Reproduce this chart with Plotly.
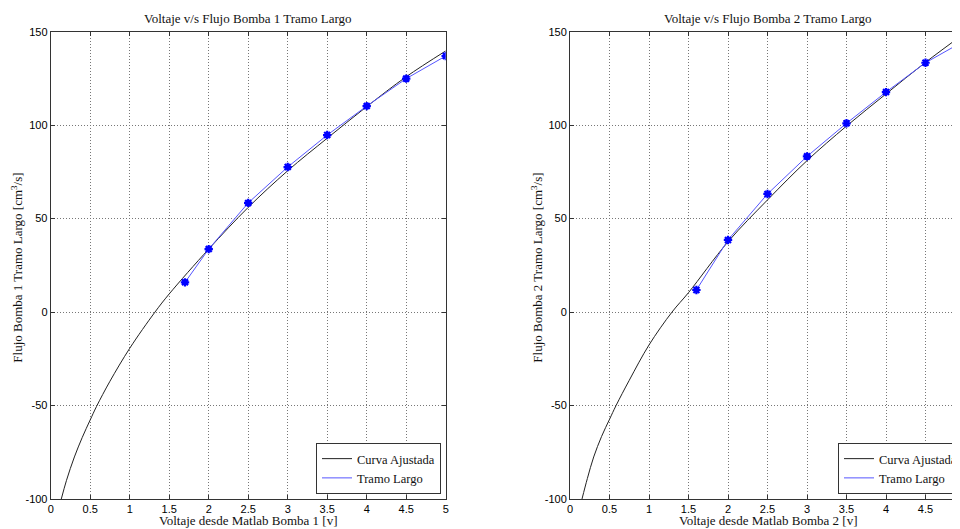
import plotly.graph_objects as go

# ---- data ----
fit1_x = [0.134, 0.2, 0.3, 0.4, 0.5, 0.58, 0.75, 1.0, 1.32, 1.5, 2.0, 2.5, 3.0, 3.5, 4.0, 4.5, 5.0]
fit1_y = [-100, -90, -77.5, -67, -57.7, -50.5, -37, -19.4, 0, 9.7, 33.7, 56.0, 75.6, 93.0, 109.9, 125.9, 139.7]
data1_x = [1.7, 2.0, 2.5, 3.0, 3.5, 4.0, 4.5, 5.0]
data1_y = [15.9, 33.7, 58.4, 77.6, 94.7, 110.2, 124.9, 137.0]

fit2_x = [0.152, 0.22, 0.3, 0.4, 0.5, 0.583, 0.75, 1.0, 1.291, 1.5, 2.0, 2.5, 3.0, 3.5, 4.0, 4.5, 5.0]
fit2_y = [-100, -89, -77.5, -66.5, -57.4, -50, -36.5, -17.6, 0, 10.4, 37.6, 60.0, 81.0, 99.5, 116.7, 133.6, 149.3]
data2_x = [1.6, 2.0, 2.5, 3.0, 3.5, 4.0, 4.5, 5.0]
data2_y = [11.8, 38.6, 63.2, 83.3, 101.0, 117.7, 133.4, 145.3]

x_ticks = [0, 0.5, 1, 1.5, 2, 2.5, 3, 3.5, 4, 4.5, 5]
x_tick_labels = ["0", "0.5", "1", "1.5", "2", "2.5", "3", "3.5", "4", "4.5", "5"]
y_ticks = [-100, -50, 0, 50, 100, 150]
y_tick_labels = ["-100", "-50", "0", "50", "100", "150"]

titles = ["Voltaje v/s Flujo Bomba 1 Tramo Largo", "Voltaje v/s Flujo Bomba 2 Tramo Largo"]
xlabels = ["Voltaje desde Matlab Bomba 1 [v]", "Voltaje desde Matlab Bomba 2 [v]"]
ylabels = ["Flujo Bomba 1 Tramo Largo [cm<sup>3</sup>/s]", "Flujo Bomba 2 Tramo Largo [cm<sup>3</sup>/s]"]
legend_names = ["Curva Ajustada", "Tramo Largo"]

# the page body has an 8px margin: figure is placed at (8, 8) in the window
OFF = 8.0
W, H = 952, 521
SERIF = "Liberation Serif"
SANS = "Liberation Sans"
FIT_COLOR = "#222222"
LINE_COLOR = "#5555ff"
MARK_COLOR = "#0000ff"
TEXT_COLOR = "#111111"


def px(x):
    return (x - OFF) / W


def py(y):
    return (H - (y - OFF)) / H


fig = go.Figure()

for i, (fx, fy, dx, dy) in enumerate([(fit1_x, fit1_y, data1_x, data1_y),
                                      (fit2_x, fit2_y, data2_x, data2_y)]):
    xa = "x" if i == 0 else "x2"
    ya = "y" if i == 0 else "y2"
    lg = "legend" if i == 0 else "legend2"
    fig.add_trace(go.Scatter(x=fx, y=fy, mode="lines", name=legend_names[0],
                             line=dict(color=FIT_COLOR, width=1, shape="spline", smoothing=1),
                             xaxis=xa, yaxis=ya, legend=lg))
    fig.add_trace(go.Scatter(x=dx, y=dy, mode="lines", name=legend_names[1],
                             line=dict(color=LINE_COLOR, width=1),
                             xaxis=xa, yaxis=ya, legend=lg))
    fig.add_trace(go.Scatter(x=dx, y=dy, mode="markers", showlegend=False,
                             marker=dict(symbol="asterisk-open", size=7, color=MARK_COLOR,
                                         line=dict(color=MARK_COLOR, width=2.2)),
                             xaxis=xa, yaxis=ya))


def axis_common():
    return dict(showline=True, linecolor="#333333", linewidth=1,
                ticks="inside", ticklen=4, tickcolor="#333333",
                showgrid=True, gridcolor="#777777", griddash="1px,2px", gridwidth=1,
                zeroline=False, tickfont=dict(family=SANS, size=11, color="black"))


# plot areas (window pixels)
L1, R1 = 50.7, 445.7
L2, R2full = 570.0, 965.0
TOP, BOT = 31.7, 499.0
ydom = [py(BOT), py(TOP)]
x2_end = 5.0 * (960 - L2) / (R2full - L2)

fig.update_layout(
    width=W, height=H,
    margin=dict(l=0, r=0, t=0, b=0, autoexpand=False),
    paper_bgcolor="white", plot_bgcolor="white",
    xaxis=dict(domain=[px(L1), px(R1)], range=[0, 5], tickvals=x_ticks, ticktext=x_tick_labels,
               anchor="y", mirror="ticks", **axis_common()),
    yaxis=dict(domain=ydom, range=[-100, 150], tickvals=y_ticks, ticktext=y_tick_labels,
               anchor="x", mirror="ticks", **axis_common()),
    xaxis2=dict(domain=[px(L2), 1.0], range=[0, x2_end], tickvals=x_ticks, ticktext=x_tick_labels,
                anchor="y2", mirror="ticks", **axis_common()),
    yaxis2=dict(domain=ydom, range=[-100, 150], tickvals=y_ticks, ticktext=y_tick_labels,
                anchor="x2", mirror=False, **axis_common()),
    legend=dict(x=px(441), y=py(494), xanchor="right", yanchor="bottom",
                bgcolor="white", bordercolor="#333333", borderwidth=1,
                font=dict(family=SERIF, size=12.5, color=TEXT_COLOR), tracegroupgap=0, itemwidth=30),
    legend2=dict(x=px(838), y=py(494), xanchor="left", yanchor="bottom",
                 bgcolor="white", bordercolor="#333333", borderwidth=1,
                 font=dict(family=SERIF, size=12.5, color=TEXT_COLOR), tracegroupgap=0, itemwidth=30),
    showlegend=True,
)

ann = []
centers = [(L1 + R1) / 2, (L2 + R2full) / 2]
ylab_x = [16.7, 536.7]
for i in range(2):
    ann.append(dict(text=titles[i], x=px(centers[i]), y=py(18.5), xref="paper", yref="paper",
                    xanchor="center", yanchor="middle", showarrow=False,
                    font=dict(family=SERIF, size=13, color=TEXT_COLOR)))
    ann.append(dict(text=xlabels[i], x=px(centers[i]), y=py(520), xref="paper", yref="paper",
                    xanchor="center", yanchor="middle", showarrow=False,
                    font=dict(family=SERIF, size=13, color=TEXT_COLOR)))
    ann.append(dict(text=ylabels[i], x=px(ylab_x[i]), y=py(268), xref="paper", yref="paper",
                    xanchor="center", yanchor="middle", showarrow=False, textangle=-90,
                    font=dict(family=SERIF, size=13, color=TEXT_COLOR)))
fig.update_layout(annotations=ann)

fig.write_html("out.html")
